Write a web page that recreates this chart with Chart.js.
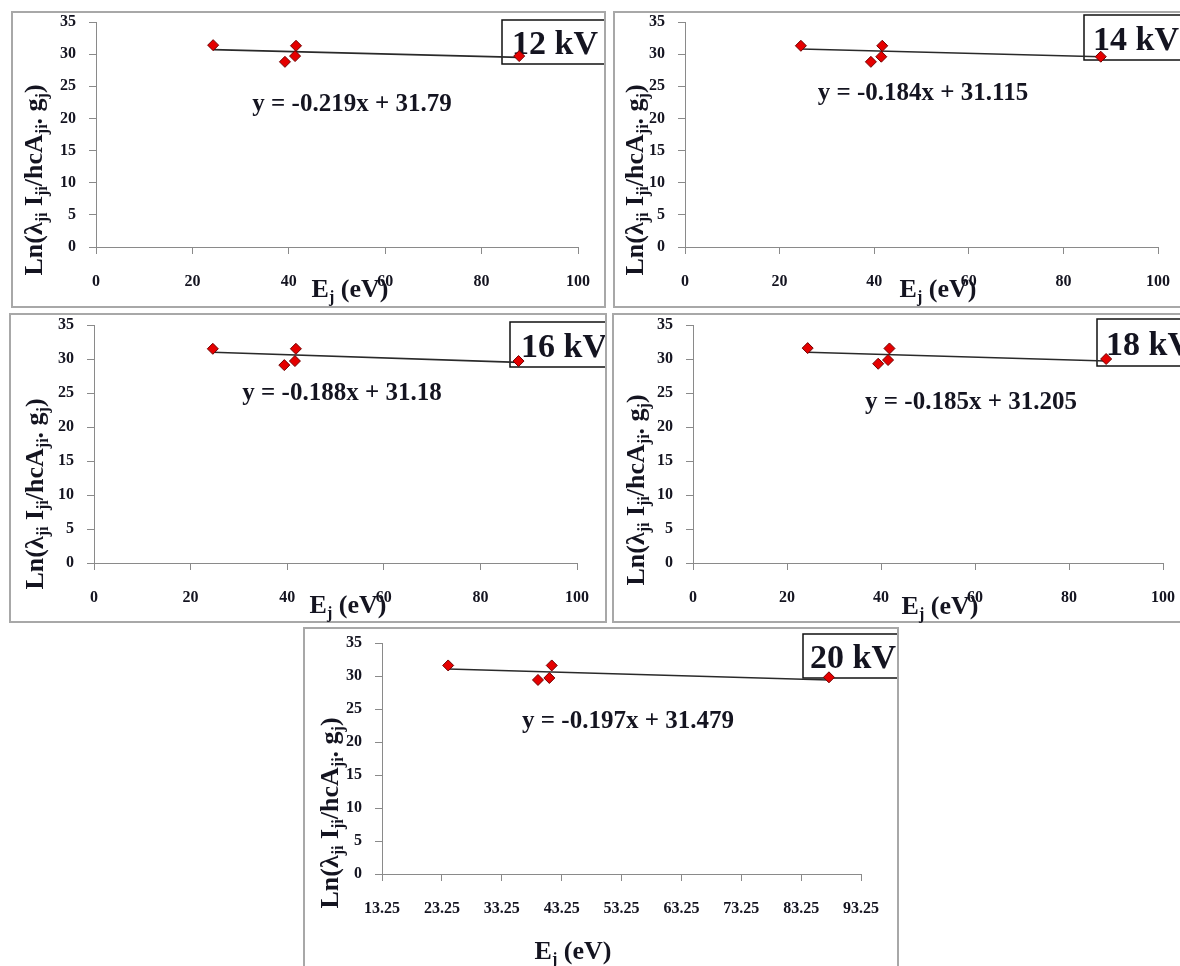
<!DOCTYPE html>
<html>
<head>
<meta charset="utf-8">
<script src="https://cdn.jsdelivr.net/npm/chart.js@4.4.0/dist/chart.umd.min.js"></script>
<style>
html, body { margin: 0; padding: 0; background: #fff; overflow: hidden; }
body { width: 1180px; height: 966px; position: relative; }
canvas { position: absolute; }
</style>
</head>
<body>
<canvas id="c12"></canvas>
<canvas id="c14"></canvas>
<canvas id="c16"></canvas>
<canvas id="c18"></canvas>
<canvas id="c20"></canvas>
<script>
// valeurs
const voltages = ['12 kV', '14 kV', '16 kV', '18 kV', '20 kV'];
const equations = ['y = -0.219x + 31.79', 'y = -0.184x + 31.115', 'y = -0.188x + 31.18', 'y = -0.185x + 31.205', 'y = -0.197x + 31.479'];

const energy12 = [24.3, 39.2, 41.3, 41.5, 87.8];
const ln12 = [31.4, 28.8, 29.7, 31.3, 29.7];
const energy14 = [24.5, 39.3, 41.5, 41.7, 87.9];
const ln14 = [31.3, 28.8, 29.6, 31.3, 29.6];
const energy16 = [24.6, 39.4, 41.6, 41.8, 87.9];
const ln16 = [31.5, 29.1, 29.7, 31.5, 29.7];
const energy18 = [24.4, 39.4, 41.5, 41.8, 87.9];
const ln18 = [31.6, 29.3, 29.85, 31.55, 30.0];
const energy20 = [24.3, 39.3, 41.2, 41.6, 87.9];
const ln20 = [31.6, 29.4, 29.7, 31.6, 29.8];

// droites de tendance (extrémités)
const fitEnergy12 = [24.3, 87.8], fitLn12 = [30.7, 29.5];
const fitEnergy14 = [24.5, 87.9], fitLn14 = [30.8, 29.6];
const fitEnergy16 = [24.6, 87.9], fitLn16 = [31.0, 29.5];
const fitEnergy18 = [24.4, 87.9], fitLn18 = [31.0, 29.7];
const fitEnergy20 = [24.3, 87.9], fitLn20 = [31.06, 29.4];

const yTicks = [0, 5, 10, 15, 20, 25, 30, 35];
const xTicks = [0, 20, 40, 60, 80, 100];
const xTicks20 = [13.25, 23.25, 33.25, 43.25, 53.25, 63.25, 73.25, 83.25, 93.25];
const xTickLabels20 = ['13.25', '23.25', '33.25', '43.25', '53.25', '63.25', '73.25', '83.25', '93.25'];

// mise en page de chaque panneau (pixels)
const layouts = [
    { id: 'c12', left: 10, top: 10, w: 597, h: 299, area: [86, 12, 568, 237], box: [492, 10, 44], textDx: 10, eq: [342, 93], xt: [340, 278], yt: [23, 170] },
    { id: 'c14', left: 612, top: 10, w: 590, h: 299, area: [73, 12, 546, 237], box: [472, 5, 45], textDx: 9, eq: [311, 82], xt: [326, 278], yt: [22, 170] },
    { id: 'c16', left: 8, top: 312, w: 600, h: 312, area: [86, 13, 569, 251], box: [502, 10, 45], textDx: 11, eq: [334, 80], xt: [340, 292], yt: [26, 182] },
    { id: 'c18', left: 611, top: 312, w: 590, h: 312, area: [82, 13, 552, 251], box: [486, 7, 47], textDx: 9, eq: [360, 89], xt: [329, 293], yt: [24, 178] },
    { id: 'c20', left: 302, top: 626, w: 598, h: 360, area: [80, 17, 559, 248], box: [501, 8, 44], textDx: 7, eq: [326, 94], xt: [271, 324], yt: [27, 187] }
];

const FONT = '"Liberation Serif", "Times New Roman", serif';
const TEXT_COLOR = '#141420';
const AXIS_COLOR = '#8a8a8a';

function drawRich(ctx, parts, cx, cy, size, rotate) {
    const big = 'bold ' + size + 'px ' + FONT;
    const small = 'bold ' + Math.round(size * 0.62) + 'px ' + FONT;
    ctx.save();
    ctx.translate(cx, cy);
    if (rotate) ctx.rotate(-Math.PI / 2);
    let total = 0;
    parts.forEach(p => { ctx.font = p[1] ? small : big; total += ctx.measureText(p[0]).width; });
    let x = -total / 2;
    ctx.fillStyle = TEXT_COLOR;
    ctx.textBaseline = 'alphabetic';
    ctx.textAlign = 'left';
    parts.forEach(p => {
        ctx.font = p[1] ? small : big;
        ctx.fillText(p[0], x, size * 0.33 + (p[1] ? size * 0.22 : 0));
        x += ctx.measureText(p[0]).width;
    });
    ctx.restore();
}

const yTitleParts = [['Ln(', 0], ['λ', 0], ['ji', 1], [' I', 0], ['ji', 1], ['/hcA', 0], ['ji', 1], ['. g', 0], ['j', 1], [')', 0]];
const xTitleParts = [['E', 0], ['j', 1], [' (eV)', 0]];

const decorPlugin = {
    id: 'decor',
    beforeDraw(chart) {
        const ctx = chart.ctx;
        ctx.save();
        ctx.fillStyle = '#fff';
        ctx.fillRect(0, 0, chart.width, chart.height);
        ctx.restore();
    },
    beforeDatasetsDraw(chart) {
        // étiquette de tension, sous les points
        const o = chart.options.plugins.decor;
        const L = o.layout;
        const ctx = chart.ctx;
        const bx = L.box[0], by = L.box[1], bh = L.box[2];
        const bw = chart.width - 2 - bx;
        ctx.save();
        ctx.fillStyle = '#fff';
        ctx.fillRect(bx, by, bw, bh);
        ctx.strokeStyle = '#111';
        ctx.lineWidth = 1.5;
        ctx.strokeRect(bx, by, bw, bh);
        ctx.font = 'bold 34px ' + FONT;
        ctx.fillStyle = TEXT_COLOR;
        ctx.textAlign = 'left';
        ctx.textBaseline = 'alphabetic';
        ctx.fillText(o.label, bx + L.textDx, by + bh / 2 + 12);
        ctx.restore();
    },
    afterDraw(chart) {
        const o = chart.options.plugins.decor;
        const L = o.layout;
        const ctx = chart.ctx;
        // cadre du panneau
        ctx.save();
        ctx.strokeStyle = '#a8a8a8';
        ctx.lineWidth = 2;
        ctx.strokeRect(2, 2, chart.width - 4, chart.height - 4);
        ctx.restore();
        // titres
        drawRich(ctx, yTitleParts, L.yt[0], L.yt[1], 26, true);
        drawRich(ctx, xTitleParts, L.xt[0], L.xt[1], 26, false);
        // équation
        ctx.save();
        ctx.font = 'bold 25px ' + FONT;
        ctx.fillStyle = TEXT_COLOR;
        ctx.textAlign = 'center';
        ctx.textBaseline = 'alphabetic';
        ctx.fillText(o.equation, L.eq[0], L.eq[1] + 8);
        ctx.restore();
    }
};

function makeChart(i, energies, lns, fitE, fitL, ticksX, tickLabelsX) {
    const L = layouts[i];
    const canvas = document.getElementById(L.id);
    canvas.width = L.w;
    canvas.height = L.h;
    canvas.style.left = L.left + 'px';
    canvas.style.top = L.top + 'px';
    const [aL, aT, aR, aB] = L.area;
    const tickFont = { family: FONT, size: 16, weight: 'bold' };

    return new Chart(canvas.getContext('2d'), {
        type: 'scatter',
        data: {
            datasets: [{
                data: energies.map((e, k) => ({ x: e, y: lns[k] })),
                pointStyle: 'rectRot',
                pointRadius: 5.5,
                backgroundColor: '#e50000',
                borderColor: '#700000',
                borderWidth: 1
            }, {
                data: fitE.map((e, k) => ({ x: e, y: fitL[k] })),
                showLine: true,
                pointRadius: 0,
                borderColor: '#2a2a2a',
                borderWidth: 1.6
            }]
        },
        options: {
            responsive: false,
            animation: false,
            devicePixelRatio: 1,
            layout: { padding: { top: aT, right: L.w - aR, left: 0, bottom: 0 } },
            plugins: {
                legend: { display: false },
                tooltip: { enabled: false },
                decor: { layout: L, label: voltages[i], equation: equations[i] }
            },
            scales: {
                x: {
                    type: 'linear',
                    min: ticksX[0],
                    max: ticksX[ticksX.length - 1],
                    afterBuildTicks: s => { s.ticks = ticksX.map(v => ({ value: v })); },
                    afterFit: s => { s.height = L.h - aB; s.paddingLeft = 0; s.paddingRight = 0; },
                    border: { color: AXIS_COLOR, width: 1 },
                    grid: { drawOnChartArea: false, drawTicks: true, tickLength: 7, color: AXIS_COLOR },
                    ticks: {
                        font: tickFont, color: TEXT_COLOR, padding: 18, maxRotation: 0, autoSkip: false,
                        callback: (v, k) => tickLabelsX ? tickLabelsX[k] : v
                    }
                },
                y: {
                    type: 'linear',
                    min: 0,
                    max: 35,
                    afterBuildTicks: s => { s.ticks = yTicks.map(v => ({ value: v })); },
                    afterFit: s => { s.width = aL; s.paddingTop = 0; s.paddingBottom = 0; },
                    border: { color: AXIS_COLOR, width: 1 },
                    grid: { drawOnChartArea: false, drawTicks: true, tickLength: 7, color: AXIS_COLOR },
                    ticks: { font: tickFont, color: TEXT_COLOR, padding: 13 }
                }
            }
        },
        plugins: [decorPlugin]
    });
}

makeChart(0, energy12, ln12, fitEnergy12, fitLn12, xTicks, null);
makeChart(1, energy14, ln14, fitEnergy14, fitLn14, xTicks, null);
makeChart(2, energy16, ln16, fitEnergy16, fitLn16, xTicks, null);
makeChart(3, energy18, ln18, fitEnergy18, fitLn18, xTicks, null);
makeChart(4, energy20, ln20, fitEnergy20, fitLn20, xTicks20, xTickLabels20);
</script>
</body>
</html>
